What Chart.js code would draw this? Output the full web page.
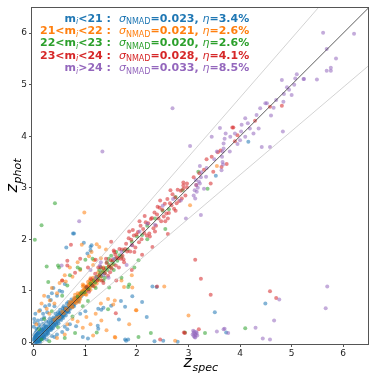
<!DOCTYPE html>
<html>
<head>
<meta charset="utf-8">
<script src="https://cdn.jsdelivr.net/npm/chart.js@4.4.1/dist/chart.umd.min.js"></script>
<style>
  html, body { margin: 0; padding: 0; background: #fff; }
  #wrap { width: 374px; height: 374px; }
</style>
</head>
<body>
<div id="wrap"><canvas id="photoz" width="374" height="374"></canvas></div>
<script>
// axis ranges and ticks
var zMin = -0.035;
var zMax = 6.5;
var tickValues = [0, 1, 2, 3, 4, 5, 6];
var outlierCut = 0.15;

// annotation text, one row per magnitude bin
var binPrefix = ["", "21<", "22<", "23<", ""];
var binSuffix = ["<21", "<22", "<23", "<24", ">24"];
var sigmaNmad = ["0.023", "0.021", "0.020", "0.028", "0.033"];
var etaOut = ["3.4", "2.6", "2.6", "4.1", "8.5"];
var binColors = ["#1f77b4", "#ff7f0e", "#2ca02c", "#d62728", "#9467bd"];

// [z_spec, z_phot]
var magLt21 = [
  [0.01,0.03],[0.02,0.08],[0.02,-0.01],[0.03,0.05],[0.04,0.12],[0.04,0.01],[0.05,0.07],[0.06,0.15],
  [0.06,0.03],[0.07,0.10],[0.08,0.02],[0.08,0.17],[0.09,0.08],[0.10,0.13],[0.10,0.04],[0.11,0.19],
  [0.12,0.09],[0.13,0.15],[0.13,0.06],[0.14,0.21],[0.15,0.11],[0.16,0.18],[0.16,0.08],[0.17,0.24],
  [0.18,0.14],[0.19,0.20],[0.19,0.11],[0.20,0.27],[0.21,0.16],[0.22,0.23],[0.23,0.15],[0.24,0.30],
  [0.25,0.21],[0.26,0.27],[0.27,0.19],[0.28,0.34],[0.29,0.25],[0.30,0.31],[0.31,0.23],[0.32,0.38],
  [0.33,0.29],[0.34,0.35],[0.35,0.27],[0.36,0.41],[0.37,0.34],[0.38,0.39],[0.39,0.31],[0.40,0.45],
  [0.41,0.38],[0.42,0.43],[0.43,0.36],[0.44,0.49],[0.45,0.42],[0.46,0.47],[0.47,0.40],[0.48,0.53],
  [0.49,0.46],[0.50,0.51],[0.51,0.45],[0.52,0.57],[0.53,0.50],[0.54,0.55],[0.55,0.49],[0.56,0.60],
  [0.57,0.54],[0.58,0.59],[0.59,0.53],[0.60,0.64],[0.61,0.58],[0.62,0.63],[0.63,0.57],[0.64,0.68],
  [0.65,0.62],[0.66,0.67],[0.67,0.61],[0.68,0.72],[0.69,0.66],[0.70,0.71],[0.71,0.65],[0.72,0.76],
  [0.73,0.70],[0.74,0.75],[0.75,0.70],[0.76,0.80],[0.77,0.74],[0.78,0.79],[0.79,0.74],[0.80,0.84],
  [0.82,0.79],[0.83,0.86],[0.85,0.82],[0.86,0.90],[0.88,0.85],[0.90,0.93],[0.92,0.89],[0.94,0.97],
  [0.96,0.93],[0.98,1.01],[1.00,0.97],[1.03,1.06],[1.06,1.03],
  [0.02,0.09],[0.04,0.14],[0.06,0.17],[0.03,0.12],[0.09,0.19],[0.11,0.02],[0.14,0.05],[0.07,0.00],
  [0.10,0.03],[0.16,0.23],[0.19,0.26],[0.23,0.30],[0.27,0.22],[0.33,0.28],[0.36,0.44],[0.40,0.33],
  [0.45,0.51],[0.50,0.56],[0.55,0.50],[0.60,0.66],[0.65,0.60],[0.70,0.76],[0.75,0.69],[0.80,0.86],
  [0.85,0.79],[0.05,0.21],[0.12,0.25],[0.21,0.33],[0.29,0.40],[0.38,0.48],[0.47,0.58],[0.56,0.66],
  [0.64,0.75],[0.17,0.06],[0.25,0.14],[0.34,0.24],[0.44,0.34],[0.53,0.43],[0.62,0.52],
  [0.03,0.18],[0.07,0.24],[0.10,0.28],[0.14,0.30],[0.18,0.36],[0.24,0.40],[0.31,0.46],[0.42,0.55],
  [0.51,0.63],[0.58,0.70],[0.67,0.78],[0.73,0.83],[0.20,0.10],[0.28,0.17],[0.37,0.27],[0.48,0.37],
  [0.57,0.47],[0.68,0.58],[0.78,0.70],[0.87,0.80],[0.05,0.00],[0.12,0.00],[0.01,0.14],[0.00,0.06],
  [0.00,0.30],[0.01,0.45],[0.03,0.55],[0.02,0.38],[0.05,0.26],[0.10,0.35],[0.08,0.42],[0.15,0.44],
  [0.18,0.55],[0.12,0.62],[0.20,0.48],[0.26,0.58],[0.22,0.70],[0.30,0.72],[0.35,0.95],[0.38,1.05],
  [0.28,0.88],[0.33,0.82],[0.45,0.90],[0.50,1.00],[0.55,0.98],[0.40,0.70],[0.60,1.13],[0.63,1.84],
  [0.78,2.11],[1.12,1.88],[1.04,1.72],[1.10,1.85],[1.10,1.78],[0.97,1.93],[0.76,2.11],[1.35,0.67],
  [1.50,0.71],[2.19,0.49],[2.38,1.07],[2.30,1.08],[1.25,0.26],[1.79,0.03],[0.95,0.10],[0.82,0.31],
  [1.05,0.07],[3.51,0.58],[4.49,0.75],[3.73,0.19],[4.16,3.89],[3.53,3.23],[0.70,0.35],[0.55,0.20],
  [0.45,0.15],[0.60,0.30],[0.90,0.55],[1.00,0.60],[0.35,0.12],[0.25,0.05],[0.40,0.10],[1.30,1.35],
  [0.65,0.25],[0.20,0.08],[1.91,0.89],[2.10,0.78],[1.77,0.69],[1.65,0.44],[1.25,0.65],[1.24,0.32],
  [1.77,0.05],[1.83,0.05],[2.34,0.02],[2.51,0.03],[2.79,0.01],[1.31,0.63],[1.69,0.80]
];

var mag21to22 = [
  [0.40,0.43],[0.45,0.47],[0.50,0.49],[0.55,0.59],[0.58,0.56],[0.62,0.65],[0.65,0.63],[0.68,0.72],
  [0.70,0.69],[0.72,0.76],[0.74,0.71],[0.76,0.80],[0.78,0.77],[0.80,0.84],[0.81,0.79],[0.83,0.87],
  [0.84,0.82],[0.86,0.90],[0.87,0.85],[0.88,0.93],[0.89,0.88],[0.90,0.95],[0.91,0.90],[0.92,0.97],
  [0.93,0.92],[0.94,0.99],[0.95,0.94],[0.96,1.01],[0.97,0.96],[0.98,1.03],[0.99,0.98],[1.00,1.05],
  [1.01,1.00],[1.02,1.07],[1.03,1.02],[1.04,1.09],[1.05,1.04],[1.06,1.11],[1.07,1.06],[1.08,1.13],
  [1.09,1.08],[1.10,1.15],[1.11,1.10],[1.12,1.17],[1.13,1.12],[1.14,1.19],[1.16,1.14],[1.18,1.22],
  [1.20,1.18],[1.22,1.26],[1.24,1.21],[1.27,1.30],[1.30,1.27],[1.33,1.36],[1.38,1.40],[1.45,1.47],
  [1.52,1.50],[0.85,0.95],[0.95,1.08],[1.05,1.17],[0.90,0.84],[1.00,0.93],[1.10,1.02],[0.78,0.86],
  [1.15,1.25],[0.82,0.76],[0.97,1.10],[1.08,1.20],[0.80,0.92],[0.88,0.78],[0.95,1.12],[1.02,0.92],
  [1.10,1.24],[1.18,1.08],[1.25,1.36],[0.75,0.68],[0.70,0.78],[1.22,1.14],[1.28,1.20],[1.35,1.45],
  [0.98,2.52],[1.22,1.90],[3.03,2.66],[3.00,0.52],[1.99,0.62],[1.57,0.81],[1.57,0.10],[1.15,0.13],
  [1.02,0.49],[0.31,0.81],[3.55,3.42],[2.53,1.08],[1.98,0.62],[1.31,0.42],[1.41,0.23],[1.58,0.09],
  [2.74,0.03],[1.44,0.84],[1.54,0.73],[1.91,1.06],[1.75,1.07],[0.10,0.60],[0.05,0.35],[0.15,0.75],
  [0.20,0.90],[0.25,0.65],[0.35,1.05],[0.45,0.95],[0.50,1.15],[0.55,1.20],[0.60,1.30],[0.70,1.45],
  [0.85,1.55],[0.90,1.40],[0.40,0.75],[0.30,0.55],[0.65,0.35],[0.75,0.45],[0.85,0.40],[1.20,0.55],
  [1.30,0.75],[0.95,0.28],[1.10,0.35],[0.60,0.15],[0.45,0.08],[1.85,0.35],[1.40,1.80],[1.30,1.63],
  [1.15,1.50],[0.75,1.27],[0.62,1.18],[1.70,1.20],[1.90,1.30],[0.93,1.89],[1.12,1.75],[1.27,1.85],
  [1.07,1.67],[1.17,1.59]
];

var mag22to23 = [
  [0.85,0.88],[0.92,0.95],[0.98,0.97],[1.02,1.06],[1.06,1.03],[1.10,1.14],[1.13,1.10],[1.16,1.20],
  [1.19,1.16],[1.22,1.27],[1.25,1.22],[1.28,1.32],[1.31,1.28],[1.34,1.38],[1.37,1.34],[1.40,1.44],
  [1.43,1.40],[1.46,1.50],[1.49,1.45],[1.52,1.56],[1.55,1.52],[1.58,1.62],[1.62,1.58],[1.66,1.69],
  [1.70,1.66],[1.75,1.78],[1.82,1.80],[1.90,1.95],[2.00,2.05],[2.10,2.08],[2.20,2.26],[2.35,2.40],
  [2.50,2.55],[2.62,2.58],[2.75,2.82],[2.88,2.95],[1.30,1.45],[1.45,1.62],[1.20,1.05],[1.38,1.25],
  [1.55,1.40],[1.60,1.75],[1.35,1.20],[1.50,1.68],[1.27,1.40],[1.42,1.55],
  [0.02,1.99],[0.15,2.27],[0.41,2.70],[0.25,1.47],[0.28,1.17],[0.47,1.49],[2.03,1.59],[1.22,0.19],
  [2.03,0.10],[2.93,0.19],[3.32,0.18],[4.10,0.27],[0.47,0.29],[3.19,3.31],[3.37,2.98],[0.49,1.45],
  [0.85,1.45],[0.90,1.42],[1.14,1.62],[1.83,1.07],[1.85,1.12],[1.46,1.06],[1.44,0.64],[2.27,0.18],
  [0.10,0.25],[0.20,0.45],[0.35,0.60],[0.55,0.90],[0.65,1.10],[0.75,0.50],[0.95,0.70],[1.05,0.80],
  [0.30,0.02],[0.60,0.08],[0.80,0.18],[0.15,0.05],[1.70,1.25],[1.95,1.45],[2.20,2.00],[1.00,1.60],
  [2.55,2.20],[0.70,1.30]
];

var mag23to24 = [
  [1.02,1.07],[1.07,0.98],[1.11,1.22],[1.15,1.09],[1.19,1.33],[1.23,1.20],[1.27,1.29],[1.29,1.46],
  [1.32,1.20],[1.35,1.43],[1.38,1.34],[1.41,1.54],[1.44,1.29],[1.46,1.47],[1.49,1.59],[1.51,1.43],
  [1.53,1.59],[1.56,1.75],[1.59,1.49],[1.61,1.64],[1.64,1.63],[1.66,1.81],[1.69,1.62],[1.71,1.80],
  [1.74,1.61],[1.77,1.81],[1.79,1.91],[1.81,1.76],[1.84,2.02],[1.87,1.76],[1.89,1.99],[1.91,1.88],
  [1.94,2.07],[1.97,1.84],[1.99,2.09],[2.02,2.14],[2.04,1.94],[2.07,2.26],[2.09,2.00],[2.12,2.20],
  [2.14,2.12],[2.17,2.33],[2.19,2.07],[2.22,2.31],[2.24,2.11],[2.27,2.39],[2.29,2.41],[2.32,2.21],
  [2.34,2.52],[2.37,2.26],[2.39,2.48],[2.42,2.40],[2.44,2.61],[2.47,2.35],[2.49,2.57],[2.52,2.44],
  [2.54,2.69],[2.57,2.50],[2.59,2.78],[2.62,2.51],[2.64,2.70],[2.67,2.66],[2.69,2.87],[2.72,2.59],
  [2.74,2.81],[2.77,2.70],[2.79,2.96],[2.82,2.74],[2.85,2.94],[2.87,2.79],[2.90,3.04],[2.94,2.85],
  [2.97,3.01],[1.55,1.78],[1.65,1.45],[1.85,2.15],[1.95,1.75],[2.15,2.45],[2.25,2.05],[2.45,2.75],
  [2.55,2.35],[2.65,2.95],[2.75,2.55],[1.40,1.62],[1.75,1.55],[2.05,2.35],[2.35,2.15],[2.90,3.10],
  [1.35,1.15],[1.25,1.45],[2.60,2.40],[1.48,1.36],[1.58,1.70],[1.72,1.68],[1.92,2.18],[2.40,2.63],
  [2.97,3.08],[2.90,2.98],[3.21,3.28],[3.43,3.08],[3.48,3.31],[3.64,3.40],[3.74,3.46],[3.45,3.60],
  [3.57,3.69],[3.90,3.90],[3.85,4.17],[3.87,4.17],[4.29,4.30],[4.58,4.57],[4.81,4.59],[3.10,3.20],
  [3.30,3.35],[3.35,3.55],[3.15,3.05],[3.62,3.72],[3.95,4.02],
  [3.13,1.60],[3.24,1.23],[3.43,0.92],[4.58,0.99],[4.70,0.86],[3.20,0.25],[2.93,0.18],[0.65,1.58],
  [0.65,1.49],[0.72,1.89],[2.39,1.08],[1.59,0.56],[2.45,0.05],[2.91,0.19],[0.55,1.20],[0.80,1.35],
  [1.60,1.20],[1.90,1.40],[2.10,1.70],[2.30,1.85],[1.20,1.60],[1.50,1.95],[2.60,2.10],[1.05,1.45],
  [0.90,1.62]
];

var magGt24 = [
  [1.20,1.25],[1.35,1.30],[1.55,1.62],[1.70,1.75],[1.90,1.88],[2.05,2.15],[2.20,2.30],[2.35,2.28],
  [2.50,2.65],[2.70,2.78],[2.85,2.75],[3.10,2.85],[3.13,2.79],[3.12,2.95],[3.15,3.05],[3.14,3.15],
  [3.16,2.92],[3.18,3.00],[3.20,3.12],[3.22,3.08],[3.22,3.42],[3.24,3.20],[3.34,3.21],[3.30,2.98],
  [3.25,3.30],[3.35,3.38],[3.45,3.99],[3.61,4.16],[3.03,3.81],[3.68,3.76],[3.68,3.86],[3.64,3.34],
  [3.66,3.50],[3.65,3.60],[3.66,3.70],[3.67,3.45],[3.70,3.95],[3.72,4.05],[3.81,3.99],[4.00,3.92],
  [4.10,3.99],[4.03,4.22],[4.02,4.09],[4.10,4.35],[4.19,4.15],[4.26,4.05],[4.36,4.15],[4.42,3.79],
  [4.58,3.79],[4.83,4.09],[4.32,4.41],[4.39,4.54],[4.49,4.64],[4.52,4.64],[4.60,4.40],[4.65,4.55],
  [4.70,4.70],[4.84,4.67],[4.85,4.82],[5.00,4.80],[4.91,4.95],[4.81,5.09],[5.07,5.12],[5.23,5.11],
  [5.49,5.10],[5.24,5.11],[4.95,4.90],[5.05,5.00],[5.10,5.20],[5.68,5.27],[5.76,5.27],[5.76,5.33],
  [5.86,5.51],[5.68,5.69],[5.61,6.01],[6.21,5.99],[3.50,3.55],[3.55,3.70],[3.80,3.70],[3.90,4.05],
  [4.15,4.25],[3.95,3.85],
  [3.24,2.47],[1.33,3.70],[0.88,2.35],[2.69,4.54],[3.13,0.16],[3.10,0.12],[3.15,0.20],[3.12,0.10],
  [3.14,0.14],[3.16,0.18],[3.11,0.21],[3.08,0.15],[3.10,0.18],[3.13,0.09],[3.17,0.13],[3.09,0.22],
  [3.68,0.25],[3.55,0.21],[3.77,0.18],[3.70,0.26],
  [4.30,0.28],[4.44,0.07],[4.58,0.05],[4.66,0.42],[4.76,0.83],[5.66,0.66],[5.69,1.08],[0.54,1.49],
  [1.80,1.50],[1.30,1.55],[2.95,2.40],[1.28,1.49],[1.10,1.40],[1.45,1.25]
];

var magSets = [magLt21, mag21to22, mag22to23, mag23to24, magGt24];

function toPoints(pairs) {
  return pairs.map(function (p) { return { x: p[0], y: p[1] }; });
}

function withAlpha(hex, a) {
  var n = parseInt(hex.slice(1), 16);
  return "rgba(" + (n >> 16) + "," + ((n >> 8) & 255) + "," + (n & 255) + "," + a + ")";
}

var datasets = [];
magSets.forEach(function (pairs, i) {
  datasets.push({
    type: "scatter",
    data: toPoints(pairs),
    backgroundColor: withAlpha(binColors[i], 0.55),
    borderWidth: 0,
    pointRadius: 2,
    order: 10 - i
  });
});

// one-to-one line and the outlier limits
function refLine(slope, offset, color, width) {
  return {
    type: "line",
    data: [
      { x: zMin, y: slope * zMin + offset },
      { x: zMax, y: slope * zMax + offset }
    ],
    borderColor: color,
    borderWidth: width,
    pointRadius: 0,
    fill: false,
    order: 0
  };
}
datasets.push(refLine(1, 0, "#333333", 0.8));
datasets.push(refLine(1 + outlierCut, outlierCut, "#c8c8c8", 0.8));
datasets.push(refLine(1 - outlierCut, -outlierCut, "#c8c8c8", 0.8));

var FONT = "'DejaVu Sans', sans-serif";

var framePlugin = {
  id: "frame",
  afterDraw: function (chart) {
    var ctx = chart.ctx;
    var a = chart.chartArea;
    ctx.save();
    ctx.strokeStyle = "#555";
    ctx.lineWidth = 1;
    ctx.strokeRect(Math.round(a.left) - 0.5, Math.round(a.top) + 0.5,
      Math.round(a.right - a.left), Math.round(a.bottom - a.top));

    // axis titles with subscripts
    ctx.fillStyle = "#000";
    ctx.textBaseline = "alphabetic";
    ctx.textAlign = "left";
    var cx = (a.left + a.right) / 2;
    ctx.font = "oblique 16px " + FONT;
    var wz = ctx.measureText("z").width;
    ctx.font = "oblique 11px " + FONT;
    var ws = ctx.measureText("spec").width;
    var x0 = cx - (wz + ws) / 2;
    ctx.font = "oblique 16px " + FONT;
    ctx.fillText("z", x0, 367);
    ctx.font = "oblique 11px " + FONT;
    ctx.fillText("spec", x0 + wz + 0.5, 370.5);

    var cy = (a.top + a.bottom) / 2;
    ctx.save();
    ctx.translate(17, cy);
    ctx.rotate(-Math.PI / 2);
    ctx.font = "oblique 16px " + FONT;
    wz = ctx.measureText("z").width;
    ctx.font = "oblique 11px " + FONT;
    var wp = ctx.measureText("phot").width;
    var s0 = -(wz + wp) / 2;
    ctx.font = "oblique 16px " + FONT;
    ctx.fillText("z", s0, 0);
    ctx.font = "oblique 11px " + FONT;
    ctx.fillText("phot", s0 + wz + 0.5, 3.5);
    ctx.restore();

    // statistics per magnitude bin
    var colonX = 111;
    var statX = 119;
    var bold = "bold 11px " + FONT;
    var sub = "8px " + FONT;
    var subIt = "oblique 8px " + FONT;
    var greek = "oblique 11px " + FONT;
    for (var i = 0; i < binPrefix.length; i++) {
      var y = 21.8 + i * 12.3;
      ctx.fillStyle = binColors[i];
      var parts = [
        [binPrefix[i], bold, 0],
        ["m", bold, 0],
        ["i", subIt, 2.5],
        [binSuffix[i] + " :", bold, 0]
      ];
      var total = 0;
      parts.forEach(function (p) { ctx.font = p[1]; total += ctx.measureText(p[0]).width; });
      var x = colonX - total;
      parts.forEach(function (p) {
        ctx.font = p[1];
        ctx.fillText(p[0], x, y + p[2]);
        x += ctx.measureText(p[0]).width;
      });
      var stats = [
        ["\u03c3", greek, 0],
        ["NMAD", sub, 2.5],
        ["=" + sigmaNmad[i] + ", ", bold, 0],
        ["\u03b7", greek, 0],
        ["=" + etaOut[i] + "%", bold, 0]
      ];
      x = statX;
      stats.forEach(function (p) {
        ctx.font = p[1];
        ctx.fillText(p[0], x, y + p[2]);
        x += ctx.measureText(p[0]).width;
      });
    }
    ctx.restore();
  }
};

function fixedTicks(axis) {
  axis.ticks = tickValues.map(function (v) { return { value: v }; });
}

var tickFont = { family: FONT, size: 9 };

new Chart(document.getElementById("photoz").getContext("2d"), {
  type: "scatter",
  data: { datasets: datasets },
  options: {
    responsive: false,
    animation: false,
    events: [],
    layout: { padding: { top: 7, right: 5, left: 0, bottom: 0 } },
    plugins: { legend: { display: false }, tooltip: { enabled: false } },
    scales: {
      x: {
        type: "linear",
        min: zMin,
        max: zMax,
        afterBuildTicks: fixedTicks,
        afterFit: function (s) { s.height = 30; },
        border: { display: false },
        grid: { drawOnChartArea: false, tickLength: 3, color: "#555" },
        ticks: { font: tickFont, color: "#222", padding: 1, maxRotation: 0 }
      },
      y: {
        type: "linear",
        min: zMin,
        max: zMax,
        afterBuildTicks: fixedTicks,
        afterFit: function (s) { s.width = 32; },
        border: { display: false },
        grid: { drawOnChartArea: false, tickLength: 3, color: "#555" },
        ticks: { font: tickFont, color: "#222", padding: 2 }
      }
    }
  },
  plugins: [framePlugin]
});
</script>
</body>
</html>
